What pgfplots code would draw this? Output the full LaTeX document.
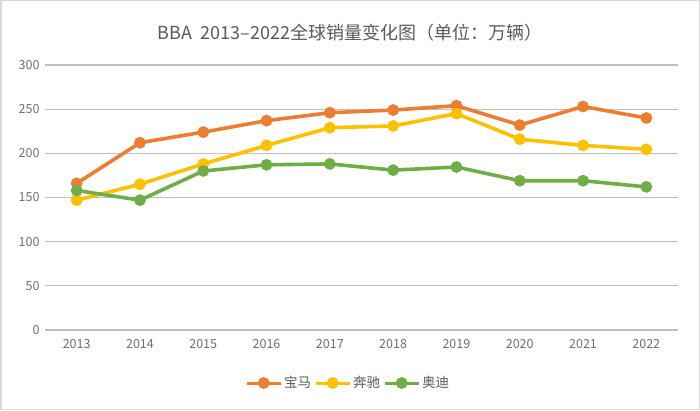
\documentclass[border=0pt]{standalone}
\usepackage{pgfplots}
\pgfplotsset{compat=1.18}
\usepackage{fontspec}
\setmainfont{Noto Sans CJK SC}
\definecolor{bmw}{HTML}{ED7D31}
\definecolor{benz}{HTML}{FFC000}
\definecolor{audi}{HTML}{70AD47}
\definecolor{txt}{HTML}{595959}
\definecolor{ticktxt}{HTML}{6E6E6E}
\definecolor{grid}{HTML}{D9D9D9}
\begin{document}
\begin{tikzpicture}[x=1pt,y=1pt]
\draw[grid, line width=1.5pt] (0.75,0.75) rectangle (699.25,409.25);
\node[txt, font=\fontsize{18}{20}\selectfont] at (350,377) {BBA\ \ 2013--2022全球销量变化图（单位：万辆）};
\begin{axis}[
    at={(45pt,80pt)}, anchor=south west,
    scale only axis,
    width=633pt, height=265pt,
    xmin=2012.5, xmax=2022.5,
    ymin=0, ymax=300,
    xtick={2013,...,2022},
    ytick={0,50,...,300},
    xticklabel style={/pgf/number format/1000 sep={}},
    /pgf/number format/assume math mode=true,
    tick label style={ticktxt, font=\fontsize{12.5}{14}\selectfont},
    major tick length=0pt,
    tick style={draw=none},
    axis line style={draw=none},
    xmajorgrids=false,
    ymajorgrids=true,
    grid style={grid, line width=1.2pt},
    yticklabel style={xshift=-2pt},
    xticklabel style={yshift=-6pt},
    legend columns=3,
    legend style={at={(0.479,-0.2)}, anchor=center, draw=none, fill=none,
        font=\fontsize{13.5}{15}\selectfont, text=txt,
        /tikz/every even column/.append style={column sep=1pt}},
    legend image code/.code={
        \draw[#1, mark=none, line width=3pt] (0pt,0pt) -- (34pt,0pt);
        \fill[#1] (17pt,0pt) circle (4pt);
    },
    legend cell align=left,
    every axis plot/.append style={line width=3.6pt, mark=*, mark size=4pt},
]
\addplot[bmw, mark options={fill=bmw, draw=bmw}] coordinates {
 (2013,166)(2014,212)(2015,224)(2016,237)(2017,246)(2018,249)(2019,254)(2020,232)(2021,253)(2022,240)};
\addlegendentry{宝马}
\addplot[benz, mark options={fill=benz, draw=benz}] coordinates {
 (2013,147)(2014,165)(2015,188)(2016,209)(2017,229)(2018,231)(2019,245)(2020,216)(2021,209)(2022,204.5)};
\addlegendentry{奔驰}
\addplot[audi, mark options={fill=audi, draw=audi}] coordinates {
 (2013,158)(2014,147)(2015,180)(2016,187)(2017,188)(2018,181)(2019,184.5)(2020,169)(2021,169)(2022,162)};
\addlegendentry{奥迪}
\end{axis}
\end{tikzpicture}
\end{document}
